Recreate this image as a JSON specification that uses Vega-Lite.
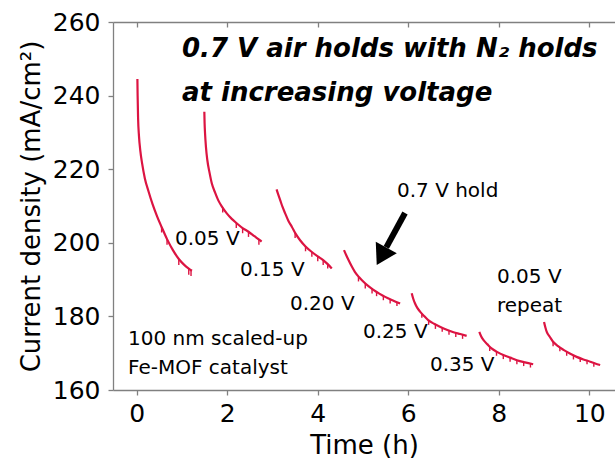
{
  "$schema": "https://vega.github.io/schema/vega-lite/v6.json",
  "width": 502,
  "height": 368,
  "autosize": "none",
  "padding": {"left": 113, "top": 22, "right": 0, "bottom": 69},
  "background": "white",
  "config": {
    "view": {"stroke": null},
    "font": "DejaVu Sans",
    "axis": {
      "grid": false,
      "domainColor": "#808080",
      "tickColor": "#808080",
      "domainWidth": 1.3,
      "tickWidth": 1.3,
      "labelColor": "black",
      "titleColor": "black",
      "labelFont": "DejaVu Sans",
      "titleFont": "DejaVu Sans",
      "labelFontSize": 25,
      "titleFontSize": 26,
      "titleFontWeight": "normal"
    }
  },
  "datasets": {
    "holds": [
      {"seg": "1", "t": 0.015, "j": 244.5}, {"seg": "1", "t": 0.02, "j": 240}, {"seg": "1", "t": 0.03, "j": 234}, {"seg": "1", "t": 0.05, "j": 229}, {"seg": "1", "t": 0.08, "j": 225}, {"seg": "1", "t": 0.12, "j": 221.5}, {"seg": "1", "t": 0.18, "j": 217.5}, {"seg": "1", "t": 0.26, "j": 214}, {"seg": "1", "t": 0.35, "j": 210.5}, {"seg": "1", "t": 0.45, "j": 207.2}, {"seg": "1", "t": 0.55, "j": 204.3}, {"seg": "1", "t": 0.67, "j": 201}, {"seg": "1", "t": 0.8, "j": 198}, {"seg": "1", "t": 0.93, "j": 195.6}, {"seg": "1", "t": 1.05, "j": 194}, {"seg": "1", "t": 1.15, "j": 193}, {"seg": "1", "t": 1.22, "j": 192.4},
      {"seg": "2", "t": 1.494, "j": 235.6}, {"seg": "2", "t": 1.5, "j": 232.5}, {"seg": "2", "t": 1.51, "j": 229.7}, {"seg": "2", "t": 1.53, "j": 226}, {"seg": "2", "t": 1.56, "j": 222.5}, {"seg": "2", "t": 1.61, "j": 219}, {"seg": "2", "t": 1.66, "j": 216.1}, {"seg": "2", "t": 1.73, "j": 213.7}, {"seg": "2", "t": 1.8, "j": 211.6}, {"seg": "2", "t": 1.89, "j": 209.7}, {"seg": "2", "t": 1.99, "j": 208}, {"seg": "2", "t": 2.1, "j": 206.5}, {"seg": "2", "t": 2.21, "j": 205.3}, {"seg": "2", "t": 2.34, "j": 204}, {"seg": "2", "t": 2.47, "j": 203}, {"seg": "2", "t": 2.6, "j": 201.8}, {"seg": "2", "t": 2.72, "j": 200.7}, {"seg": "2", "t": 2.76, "j": 200.3},
      {"seg": "3", "t": 3.09, "j": 214.5}, {"seg": "3", "t": 3.13, "j": 213}, {"seg": "3", "t": 3.17, "j": 211.6}, {"seg": "3", "t": 3.22, "j": 209.8}, {"seg": "3", "t": 3.28, "j": 208}, {"seg": "3", "t": 3.35, "j": 206}, {"seg": "3", "t": 3.43, "j": 204.3}, {"seg": "3", "t": 3.51, "j": 202.5}, {"seg": "3", "t": 3.61, "j": 200.7}, {"seg": "3", "t": 3.73, "j": 199}, {"seg": "3", "t": 3.87, "j": 197.5}, {"seg": "3", "t": 4.0, "j": 196.3}, {"seg": "3", "t": 4.12, "j": 195.3}, {"seg": "3", "t": 4.22, "j": 194.2}, {"seg": "3", "t": 4.31, "j": 193.0},
      {"seg": "4", "t": 4.58, "j": 198}, {"seg": "4", "t": 4.63, "j": 196.6}, {"seg": "4", "t": 4.68, "j": 195.3}, {"seg": "4", "t": 4.75, "j": 193.6}, {"seg": "4", "t": 4.82, "j": 192.1}, {"seg": "4", "t": 4.91, "j": 190.7}, {"seg": "4", "t": 5.01, "j": 189.4}, {"seg": "4", "t": 5.12, "j": 188.2}, {"seg": "4", "t": 5.23, "j": 187.2}, {"seg": "4", "t": 5.36, "j": 186.2}, {"seg": "4", "t": 5.49, "j": 185.3}, {"seg": "4", "t": 5.65, "j": 184.4}, {"seg": "4", "t": 5.82, "j": 183.5},
      {"seg": "5", "t": 6.076, "j": 186.3}, {"seg": "5", "t": 6.11, "j": 184.8}, {"seg": "5", "t": 6.15, "j": 183.5}, {"seg": "5", "t": 6.2, "j": 182.3}, {"seg": "5", "t": 6.26, "j": 181.3}, {"seg": "5", "t": 6.35, "j": 180.1}, {"seg": "5", "t": 6.44, "j": 179}, {"seg": "5", "t": 6.57, "j": 178}, {"seg": "5", "t": 6.7, "j": 177.2}, {"seg": "5", "t": 6.85, "j": 176.4}, {"seg": "5", "t": 7.0, "j": 175.7}, {"seg": "5", "t": 7.15, "j": 175.2}, {"seg": "5", "t": 7.29, "j": 174.7},
      {"seg": "6", "t": 7.57, "j": 175.8}, {"seg": "6", "t": 7.61, "j": 174.6}, {"seg": "6", "t": 7.66, "j": 173.6}, {"seg": "6", "t": 7.75, "j": 172.4}, {"seg": "6", "t": 7.84, "j": 171.3}, {"seg": "6", "t": 7.97, "j": 170.3}, {"seg": "6", "t": 8.1, "j": 169.5}, {"seg": "6", "t": 8.25, "j": 168.8}, {"seg": "6", "t": 8.4, "j": 168.1}, {"seg": "6", "t": 8.58, "j": 167.5}, {"seg": "6", "t": 8.76, "j": 167.0},
      {"seg": "7", "t": 9.0, "j": 178.5}, {"seg": "7", "t": 9.03, "j": 177}, {"seg": "7", "t": 9.06, "j": 175.8}, {"seg": "7", "t": 9.13, "j": 174.4}, {"seg": "7", "t": 9.2, "j": 173.1}, {"seg": "7", "t": 9.31, "j": 171.9}, {"seg": "7", "t": 9.43, "j": 170.9}, {"seg": "7", "t": 9.57, "j": 169.9}, {"seg": "7", "t": 9.72, "j": 169.0}, {"seg": "7", "t": 9.87, "j": 168.3}, {"seg": "7", "t": 10.02, "j": 167.7}, {"seg": "7", "t": 10.13, "j": 167.2}, {"seg": "7", "t": 10.24, "j": 166.8}
    ],
    "dips": [
      {"t": 0.55, "j": 204.3, "j2": 202.8}, {"t": 0.67, "j": 201, "j2": 199.5}, {"t": 0.93, "j": 195.6, "j2": 194}, {"t": 1.15, "j": 193, "j2": 191.3}, {"t": 1.2, "j": 192.5, "j2": 191},
      {"t": 1.9, "j": 209.6, "j2": 208.2}, {"t": 2.2, "j": 205.4, "j2": 204}, {"t": 2.34, "j": 204, "j2": 202.6}, {"t": 2.47, "j": 203, "j2": 201.6}, {"t": 2.7, "j": 200.9, "j2": 199.5},
      {"t": 3.5, "j": 202.7, "j2": 201.3}, {"t": 3.73, "j": 199, "j2": 197.7}, {"t": 3.87, "j": 197.5, "j2": 196.2}, {"t": 4.0, "j": 196.3, "j2": 195}, {"t": 4.12, "j": 195.3, "j2": 194}, {"t": 4.22, "j": 194.2, "j2": 193},
      {"t": 4.9, "j": 190.8, "j2": 189.5}, {"t": 5.05, "j": 189, "j2": 187.6}, {"t": 5.2, "j": 187.5, "j2": 186.2}, {"t": 5.3, "j": 186.7, "j2": 185.5}, {"t": 5.45, "j": 185.6, "j2": 184.4}, {"t": 5.6, "j": 184.7, "j2": 183.5}, {"t": 5.75, "j": 183.9, "j2": 182.8},
      {"t": 6.3, "j": 180.8, "j2": 179.6}, {"t": 6.45, "j": 178.9, "j2": 177.7}, {"t": 6.6, "j": 177.8, "j2": 176.6}, {"t": 6.75, "j": 176.9, "j2": 175.8}, {"t": 6.9, "j": 176.2, "j2": 175}, {"t": 7.05, "j": 175.5, "j2": 174.4}, {"t": 7.2, "j": 175, "j2": 173.9},
      {"t": 7.8, "j": 171.8, "j2": 170.6}, {"t": 7.95, "j": 170.4, "j2": 169.3}, {"t": 8.1, "j": 169.5, "j2": 168.4}, {"t": 8.25, "j": 168.8, "j2": 167.7}, {"t": 8.4, "j": 168.1, "j2": 167}, {"t": 8.55, "j": 167.6, "j2": 166.5}, {"t": 8.7, "j": 167.2, "j2": 166.1},
      {"t": 9.2, "j": 173.1, "j2": 171.9}, {"t": 9.35, "j": 171.6, "j2": 170.5}, {"t": 9.5, "j": 170.4, "j2": 169.3}, {"t": 9.65, "j": 169.4, "j2": 168.3}, {"t": 9.8, "j": 168.6, "j2": 167.6}, {"t": 9.95, "j": 168, "j2": 167}, {"t": 10.1, "j": 167.3, "j2": 166.3}
    ],
    "labels": [
      {"t": 0.846, "j": 199.4, "text": "0.05 V"},
      {"t": 2.282, "j": 191.0, "text": "0.15 V"},
      {"t": 3.387, "j": 181.7, "text": "0.20 V"},
      {"t": 5.0, "j": 174.1, "text": "0.25 V"},
      {"t": 6.48, "j": 165.2, "text": "0.35 V"},
      {"t": 7.961, "j": 189.1, "text": "0.05 V"},
      {"t": 7.961, "j": 181.2, "text": "repeat"},
      {"t": 5.751, "j": 212.5, "text": "0.7 V hold"},
      {"t": -0.192, "j": 172.2, "text": "100 nm scaled-up"},
      {"t": -0.192, "j": 164.35, "text": "Fe-MOF catalyst"}
    ],
    "headline": [
      {"t": 1.0, "j": 250.4, "text": "0.7 V air holds with N₂ holds"},
      {"t": 1.0, "j": 238.6, "text": "at increasing voltage"}
    ],
    "arrow": [
      {"t": 5.928, "j": 208.1, "t2": 5.515, "j2": 198.75, "tipT": 5.409, "tipJ": 196.36}
    ]
  },
  "layer": [
    {
      "layer": [
        {
          "data": {"name": "holds"},
          "mark": {"type": "line", "color": "#dc1442", "strokeWidth": 2.2, "interpolate": "monotone"},
          "encoding": {
            "x": {
              "field": "t", "type": "quantitative",
              "scale": {"domain": [-0.524, 10.568], "nice": false, "zero": false},
              "axis": {"values": [0, 2, 4, 6, 8, 10], "title": "Time (h)", "tickSize": 5, "labelPadding": 6, "titlePadding": 6}
            },
            "y": {
              "field": "j", "type": "quantitative",
              "scale": {"domain": [160, 260], "nice": false, "zero": false},
              "axis": {"values": [160, 180, 200, 220, 240, 260], "title": "Current density (mA/cm²)", "tickSize": 5, "labelPadding": 8, "titlePadding": 8}
            },
            "detail": {"field": "seg"}
          }
        },
        {
          "data": {"name": "dips"},
          "mark": {"type": "rule", "color": "#dc1442", "strokeWidth": 1.4},
          "encoding": {
            "x": {"field": "t", "type": "quantitative"},
            "y": {"field": "j", "type": "quantitative"},
            "y2": {"field": "j2"}
          }
        },
        {
          "data": {"name": "labels"},
          "mark": {"type": "text", "align": "left", "baseline": "alphabetic", "font": "DejaVu Sans", "fontSize": 20, "color": "black"},
          "encoding": {
            "x": {"field": "t", "type": "quantitative"},
            "y": {"field": "j", "type": "quantitative"},
            "text": {"field": "text"}
          }
        },
        {
          "data": {"name": "headline"},
          "mark": {"type": "text", "align": "left", "baseline": "alphabetic", "font": "DejaVu Sans", "fontSize": 26, "fontWeight": "bold", "fontStyle": "italic", "color": "black"},
          "encoding": {
            "x": {"field": "t", "type": "quantitative"},
            "y": {"field": "j", "type": "quantitative"},
            "text": {"field": "text"}
          }
        },
        {
          "data": {"name": "arrow"},
          "mark": {"type": "rule", "color": "black", "strokeWidth": 6, "strokeCap": "butt"},
          "encoding": {
            "x": {"field": "t", "type": "quantitative"},
            "y": {"field": "j", "type": "quantitative"},
            "x2": {"field": "t2"},
            "y2": {"field": "j2"}
          }
        },
        {
          "data": {"name": "arrow"},
          "mark": {"type": "point", "shape": "M0,-1L1.2,1L-1.2,1Z", "filled": true, "color": "black", "opacity": 1, "size": 400, "angle": 208.6},
          "encoding": {
            "x": {"field": "tipT", "type": "quantitative"},
            "y": {"field": "tipJ", "type": "quantitative"}
          }
        }
      ]
    },
    {
      "data": {"values": [{"t": 0}]},
      "mark": {"type": "point", "opacity": 0},
      "encoding": {
        "x": {
          "field": "t", "type": "quantitative",
          "axis": {"orient": "top", "values": [0, 2, 4, 6, 8, 10], "labels": false, "title": null, "tickSize": -5}
        }
      }
    }
  ],
  "resolve": {"axis": {"x": "independent"}}
}
